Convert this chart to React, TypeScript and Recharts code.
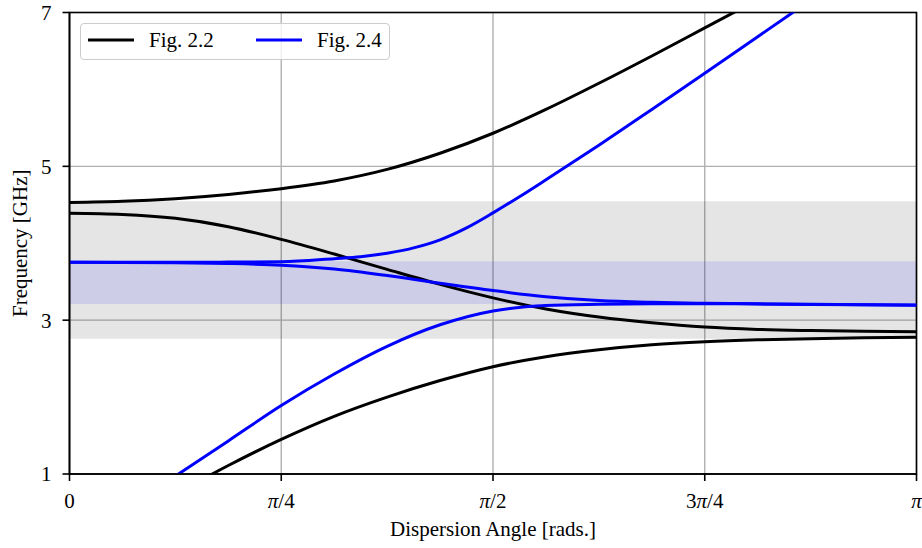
import React from 'react';
import {
  LineChart,
  Line,
  XAxis,
  YAxis,
  CartesianGrid,
  ReferenceArea,
  Legend,
} from 'recharts';

const FONT = '"Liberation Serif", "Times New Roman", serif';
const FS = 21;

// angle grid in units of pi/16
const steps = [0, 1, 2, 3, 4, 5, 6, 7, 8, 9, 10, 11, 12, 13, 14, 15, 16];
// the upper Fig. 2.4 branch bends sharply, so it is read on a finer grid
const upperBlueSteps = [0, 1, 2, 3, 4, 5, 5.5, 6, 6.5, 7, 7.5, 8, 8.5, 9, 10, 11, 12, 13, 14];

// Fig. 2.2 (black) branches, GHz
const fig22Upper = [4.53, 4.545, 4.58, 4.635, 4.71, 4.81, 4.96, 5.17, 5.43, 5.74, 6.08, 6.435, 6.8, 7.165, null, null, null];
const fig22Middle = [4.39, 4.375, 4.325, 4.215, 4.05, 3.86, 3.66, 3.465, 3.29, 3.145, 3.04, 2.965, 2.91, 2.88, 2.865, 2.855, 2.85];
const fig22Lower = [null, null, 0.74, 1.11, 1.45, 1.75, 2.0, 2.215, 2.395, 2.525, 2.615, 2.68, 2.72, 2.745, 2.76, 2.77, 2.777];

// Fig. 2.4 (blue) branches, GHz
const fig24Upper = [3.752, 3.752, 3.752, 3.755, 3.76, 3.80, 3.825, 3.87, 3.94, 4.045, 4.20, 4.395, 4.605, 4.825, 5.275, 5.74, 6.21, 6.685, 7.16];
const fig24Middle = [3.752, 3.751, 3.747, 3.737, 3.715, 3.665, 3.58, 3.48, 3.385, 3.305, 3.255, 3.232, 3.22, 3.212, 3.206, 3.201, 3.197];
const fig24Lower = [null, null, 0.973, 1.43, 1.89, 2.30, 2.66, 2.94, 3.12, 3.19, 3.207, 3.214, 3.215, 3.21, 3.205, 3.2, 3.195];

// shaded bands [low, high], GHz
const grayBand = [2.76, 4.545];
const blueBand = [3.21, 3.765];

const xTicks = [0, Math.PI / 4, Math.PI / 2, (3 * Math.PI) / 4, Math.PI];
const xTickLabels = ['0', 'π/4', 'π/2', '3π/4', 'π'];
const yTicks = [1, 3, 5, 7];

const toSeries = (grid: number[], values: (number | null)[]) =>
  grid.map((k, i) => ({ angle: (k * Math.PI) / 16, f: values[i] }));

const series = [
  { key: 'b1', name: 'Fig. 2.2', color: '#000000', data: toSeries(steps, fig22Upper) },
  { key: 'b2', color: '#000000', data: toSeries(steps, fig22Middle) },
  { key: 'b3', color: '#000000', data: toSeries(steps, fig22Lower) },
  { key: 'u1', name: 'Fig. 2.4', color: '#0000ff', data: toSeries(upperBlueSteps, fig24Upper) },
  { key: 'u2', color: '#0000ff', data: toSeries(steps, fig24Middle) },
  { key: 'u3', color: '#0000ff', data: toSeries(steps, fig24Lower) },
];

function AngleTick(props: any) {
  const { x, y, payload } = props;
  const idx = xTicks.findIndex((t) => Math.abs(t - payload.value) < 1e-6);
  const label = idx >= 0 ? xTickLabels[idx] : '';
  const parts = label.split('π');
  return (
    <text x={x} y={y} dy={14.5} textAnchor="middle" fill="#000" fontSize={FS} fontFamily={FONT}>
      {parts.map((p, i) => (
        <React.Fragment key={i}>
          {i > 0 && <tspan fontStyle="italic">π</tspan>}
          {p && <tspan>{p}</tspan>}
        </React.Fragment>
      ))}
    </text>
  );
}

function LegendBox(props: any) {
  const items = (props.payload || []).filter((p: any) => p.value === 'Fig. 2.2' || p.value === 'Fig. 2.4');
  return (
    <div
      style={{
        display: 'flex',
        alignItems: 'center',
        height: 37,
        padding: '0 7px 3px 7px',
        border: '1.5px solid #cccccc',
        borderRadius: 4,
        background: 'rgba(255,255,255,0.8)',
        fontFamily: FONT,
        fontSize: FS,
        lineHeight: 1,
        color: '#000',
        boxSizing: 'border-box',
      }}
    >
      {items.map((it: any, i: number) => (
        <div key={it.value} style={{ display: 'flex', alignItems: 'center', width: i === 0 ? 168 : 'auto' }}>
          <svg width={46} height={6} style={{ display: 'block' }}>
            <line x1={0} y1={3} x2={46} y2={3} stroke={it.color} strokeWidth={3} />
          </svg>
          <span style={{ marginLeft: 15, whiteSpace: 'nowrap' }}>{it.value}</span>
        </div>
      ))}
    </div>
  );
}

export default function App() {
  return (
    <div style={{ position: 'absolute', left: 0, top: 0, width: 922, height: 548, background: '#fff' }}>
      <LineChart width={922} height={548} margin={{ top: 12.5, right: 5.5, bottom: 0, left: 0 }}>
        <CartesianGrid stroke="#b0b0b0" strokeWidth={1.4} />
        <XAxis
          type="number"
          dataKey="angle"
          domain={[0, Math.PI]}
          ticks={xTicks}
          interval={0}
          allowDataOverflow
          height={74}
          tickSize={7}
          tickMargin={12}
          tick={<AngleTick />}
          axisLine={{ stroke: '#000', strokeWidth: 1.6 }}
          tickLine={{ stroke: '#000', strokeWidth: 1.6 }}
          label={{ value: 'Dispersion Angle [rads.]', position: 'insideBottom', offset: 12, fill: '#000', fontSize: FS, fontFamily: FONT }}
        />
        <YAxis
          type="number"
          dataKey="f"
          domain={[1, 7]}
          ticks={yTicks}
          interval={0}
          allowDataOverflow
          width={69.5}
          tickSize={7}
          tickMargin={11}
          tick={{ fill: '#000', fontSize: FS, fontFamily: FONT }}
          axisLine={{ stroke: '#000', strokeWidth: 1.6 }}
          tickLine={{ stroke: '#000', strokeWidth: 1.6 }}
          label={{ value: 'Frequency [GHz]', angle: -90, position: 'insideLeft', offset: 20, fill: '#000', fontSize: FS, fontFamily: FONT, style: { textAnchor: 'middle' } }}
        />
        <ReferenceArea x1={0} x2={Math.PI} y1={grayBand[0]} y2={grayBand[1]} fill="#000000" fillOpacity={0.1} stroke="none" />
        <ReferenceArea x1={0} x2={Math.PI} y1={blueBand[0]} y2={blueBand[1]} fill="#0000ff" fillOpacity={0.1} stroke="none" />
        {series.map((s) => (
          <Line
            key={s.key}
            data={s.data}
            dataKey="f"
            name={s.name || s.key}
            legendType={s.name ? 'line' : 'none'}
            type="monotone"
            stroke={s.color}
            strokeWidth={3}
            dot={false}
            isAnimationActive={false}
          />
        ))}
        <ReferenceArea x1={0} x2={Math.PI} y1={1} y2={7} fill="none" stroke="#000" strokeWidth={1.6} />
        <Legend
          layout="horizontal"
          verticalAlign="middle"
          align="center"
          content={<LegendBox />}
          wrapperStyle={{ left: 80, top: 23, width: 'auto', height: 'auto' }}
        />
      </LineChart>
    </div>
  );
}
